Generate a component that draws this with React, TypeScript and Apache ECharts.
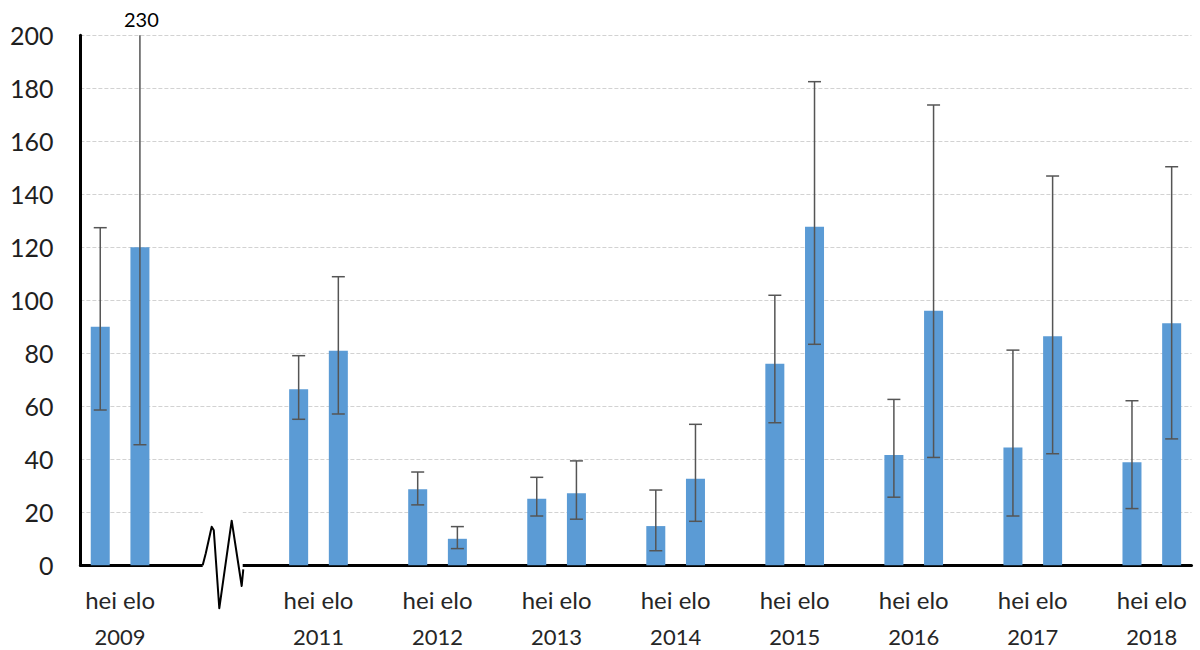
import React, { useEffect, useRef } from "react";
import * as echarts from "echarts";

// ---- data ----
const years = ["2009", "2011", "2012", "2013", "2014", "2015", "2016", "2017", "2018"];
const groupNames = ["hei", "elo"];
const heiMean = [90, 66.4, 28.7, 25.1, 14.8, 76.1, 41.6, 44.5, 38.9];
const heiLow = [58.6, 55.1, 22.8, 18.6, 5.5, 53.8, 25.7, 18.6, 21.4];
const heiHigh = [127.4, 79.1, 35.2, 33.2, 28.4, 101.9, 62.6, 81.2, 62.1];
const eloMean = [120, 81, 10, 27.2, 32.7, 127.8, 96.1, 86.4, 91.3];
const eloLow = [45.5, 57.1, 6.3, 17.4, 16.6, 83.4, 40.7, 42.1, 47.7];
const eloHigh = [230, 108.9, 14.6, 39.4, 53.2, 182.5, 173.7, 146.9, 150.4];
const yMin = 0;
const yMax = 200;
const yInterval = 20;

// ---- layout (empty slots between year groups; the axis break sits after 2009) ----
const gapSlotsAfter = [3, 1, 1, 1, 1, 1, 1, 1, 0];
const breakAfterGroup = 0;

type Slot = { name: string; value: number | null; low: number | null; high: number | null };

function buildSlots() {
  const slots: Slot[] = [];
  const boundaryLabels: string[] = [];
  let breakIdx = -1;
  years.forEach((y, i) => {
    const heiIdx = slots.length;
    slots.push({ name: `${y} ${groupNames[0]}`, value: heiMean[i], low: heiLow[i], high: heiHigh[i] });
    slots.push({ name: `${y} ${groupNames[1]}`, value: eloMean[i], low: eloLow[i], high: eloHigh[i] });
    boundaryLabels[heiIdx + 1] = y;
    for (let g = 0; g < gapSlotsAfter[i]; g++) {
      slots.push({ name: `gap${i}-${g}`, value: null, low: null, high: null });
      if (i === breakAfterGroup && g === Math.floor(gapSlotsAfter[i] / 2)) breakIdx = slots.length - 1;
    }
  });
  const boundaries: string[] = [];
  for (let k = 0; k <= slots.length; k++) boundaries.push(boundaryLabels[k] || "");
  return { slots, boundaries, breakIdx };
}

const FONT = "Lato";

export default function App() {
  const ref = useRef<HTMLDivElement>(null);

  useEffect(() => {
    document.body.style.margin = "0";
    if (!ref.current) return;
    const chart = echarts.init(ref.current, undefined, { renderer: "svg" });
    const { slots, boundaries, breakIdx } = buildSlots();

    const errData = slots
      .map((s, i) => (s.value == null ? null : [i, s.low, s.high]))
      .filter((d) => d != null);

    const option: any = {
      animation: false,
      grid: { left: 80.4, right: 8.5, top: 35.3, bottom: 84.7, containLabel: false },
      xAxis: [
        {
          type: "category",
          data: slots.map((s) => s.name),
          boundaryGap: true,
          axisLine: { show: true, lineStyle: { color: "#000", width: 3 } },
          axisTick: { show: false },
          axisLabel: { show: false },
          splitLine: { show: false },
        },
        {
          type: "category",
          data: boundaries,
          boundaryGap: false,
          position: "bottom",
          axisLine: { show: false },
          axisTick: { show: false },
          splitLine: { show: false },
          axisLabel: {
            interval: 0,
            margin: 10,
            formatter: (v: string) => (v ? `{a|${groupNames.join(" ")}}\n{b|${v}}` : ""),
            rich: {
              a: { fontFamily: FONT, fontSize: 24, lineHeight: 48, color: "#262626" },
              b: { fontFamily: FONT, fontSize: 22, lineHeight: 26, color: "#262626" },
            },
          },
        },
      ],
      yAxis: {
        type: "value",
        min: yMin,
        max: yMax,
        interval: yInterval,
        axisLine: { show: true, lineStyle: { color: "#000", width: 3 } },
        axisTick: { show: false },
        axisLabel: { fontFamily: FONT, fontSize: 25, color: "#1f1f1f", margin: 27 },
        splitLine: { show: true, lineStyle: { color: "#d2d2d2", type: [4, 2], width: 1 } },
      },
      series: [
        {
          type: "bar",
          xAxisIndex: 0,
          data: slots.map((s) => (s.value == null ? "-" : s.value)),
          barWidth: 19,
          itemStyle: { color: "#5B9BD5" },
          z: 2,
        },
        {
          type: "custom",
          xAxisIndex: 0,
          clip: false,
          z: 3,
          encode: { x: 0, y: [1, 2] },
          data: errData,
          renderItem: (params: any, api: any) => {
            const i = api.value(0);
            const lo = api.value(1);
            const hi = api.value(2);
            const clipped = hi > yMax;
            const pLo = api.coord([i, lo]);
            const pHi = api.coord([i, Math.min(hi, yMax)]);
            const cap = 6.5;
            const st = { stroke: "#555", lineWidth: 1.5 };
            const children: any[] = [
              { type: "line", shape: { x1: pLo[0], y1: pLo[1], x2: pHi[0], y2: pHi[1] }, style: st },
              { type: "line", shape: { x1: pLo[0] - cap, y1: pLo[1], x2: pLo[0] + cap, y2: pLo[1] }, style: st },
            ];
            if (!clipped) {
              children.push({
                type: "line",
                shape: { x1: pHi[0] - cap, y1: pHi[1], x2: pHi[0] + cap, y2: pHi[1] },
                style: st,
              });
            } else {
              children.push({
                type: "text",
                x: pHi[0] + 1.5,
                y: pHi[1] - 6,
                style: {
                  text: String(hi),
                  fontFamily: FONT,
                  fontSize: 20,
                  fill: "#000",
                  align: "center",
                  verticalAlign: "bottom",
                },
              });
            }
            return { type: "group", children };
          },
        },
      ],
    };
    chart.setOption(option);

    // axis break decoration, positioned from the scales
    const c = chart.convertToPixel({ xAxisIndex: 0 }, breakIdx) as number;
    const y0 = chart.convertToPixel({ yAxisIndex: 0 }, 0) as number;
    const y20 = chart.convertToPixel({ yAxisIndex: 0 }, yInterval) as number;
    const zig = [
      [-16.6, 0],
      [-13.5, -12],
      [-7.6, -38.6],
      [-5.5, -35],
      [0, 43],
      [12.4, -44.6],
      [22.4, 20.7],
      [24, 4],
    ];
    chart.setOption({
      graphic: [
        {
          type: "rect",
          z: 100,
          shape: { x: c - 16.6, y: y20 - 2, width: 40, height: y0 - y20 + 4 },
          style: { fill: "#fff" },
        },
        {
          type: "polyline",
          z: 101,
          shape: { points: zig.map(([dx, dy]) => [c + dx, y0 + dy]) },
          style: { stroke: "#000", lineWidth: 2, fill: null, lineJoin: "round" },
        },
      ],
    });

    return () => chart.dispose();
  }, []);

  return <div ref={ref} style={{ width: 1200, height: 650 }} />;
}
